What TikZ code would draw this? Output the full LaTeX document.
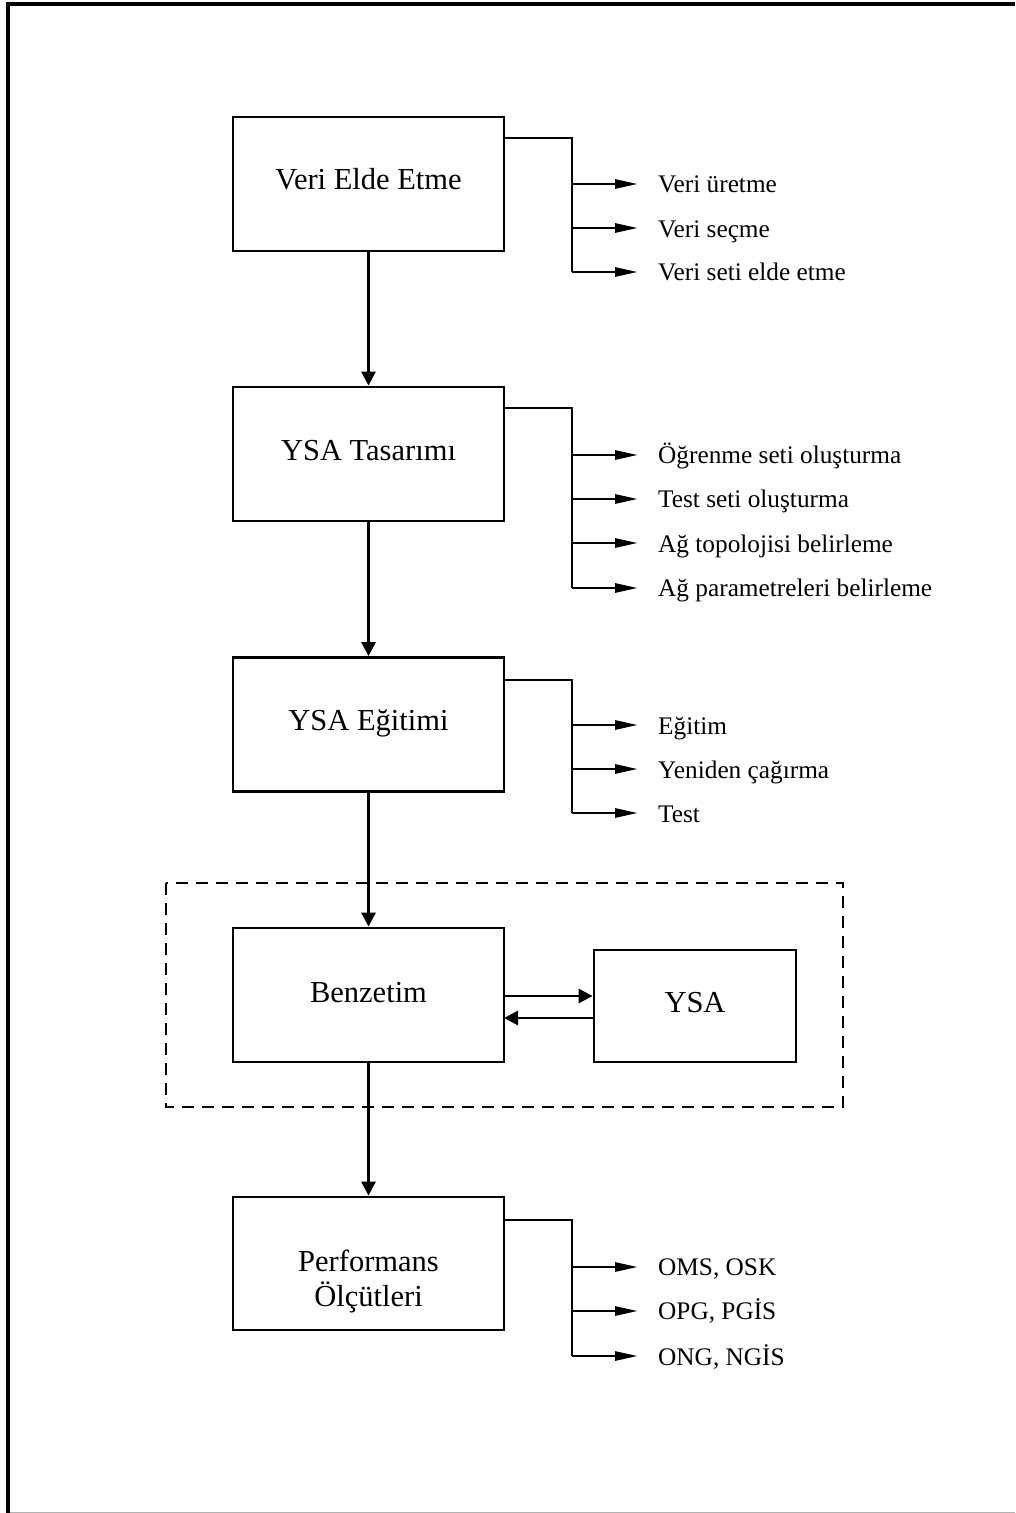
\documentclass[tikz,border=0pt]{standalone}
\usepackage{fontspec}
\setmainfont{Liberation Serif}
\usetikzlibrary{arrows.meta}

\begin{document}
\begin{tikzpicture}[x=1pt,y=-1pt,
  stagebox/.style={draw, line width=2.8pt, rectangle, inner sep=0pt,
    minimum width=271pt, minimum height=134pt},
  boxtext/.style={inner sep=0pt, anchor=base, font=\fontsize{30.5}{35}\selectfont},
  itemtext/.style={inner sep=0pt, anchor=base west, font=\fontsize{25.3}{29}\selectfont},
  flow/.style={line width=2.8pt, -{Triangle[length=14pt,width=14pt]}},
  spine/.style={line width=2.8pt},
  branch/.style={line width=2.8pt, -{Triangle[length=23pt,width=9pt]}, shorten >=20pt},
]
\useasboundingbox (0,0) rectangle (1015,1513);

% page frame
\draw[line width=4pt] (8,1513) -- (8,4) -- (1015,4);
\draw[black!30, line width=1pt] (10,1512) -- (1015,1512);

% stage boxes
\node[stagebox] (b1) at (368.5,184) {};
\node[stagebox] (b2) at (368.5,454) {};
\node[stagebox] (b3) at (368.5,724.5) {};
\node[stagebox] (b4) at (368.5,995) {};
\node[stagebox, minimum height=133pt] (b5) at (368.5,1263.5) {};
\node[stagebox, minimum width=202pt, minimum height=112pt] (ysa) at (695,1006) {};

\node[boxtext] (l1) at (368.5,189) {Veri Elde Etme};
\node[boxtext] (l2) at (368.5,460) {YSA Tasarımı};
\node[boxtext] (l3) at (368.5,730) {YSA Eğitimi};
\node[boxtext] (l4) at (368.5,1002) {Benzetim};
\node[boxtext, align=center] (l5) at (368.5,1306) {Performans\\Ölçütleri};
\node[boxtext] (l6) at (695,1012) {YSA};

% simulation group
\draw[line width=2.6pt, dash pattern=on 12pt off 8pt] (166,883) rectangle (843,1107);

% main flow
\draw[flow] (b1.south) -- (b2.north);
\draw[flow] (b2.south) -- (b3.north);
\draw[flow] (b3.south) -- (b4.north);
\draw[flow] (b4.south) -- (b5.north);

% Benzetim <-> YSA
\coordinate (bz1) at (504,996);
\coordinate (bz2) at (504,1018);
\draw[flow] (bz1) -- (bz1 -| ysa.west);
\draw[flow] (bz2 -| ysa.west) -- (bz2);

% item lists
\node[itemtext] (i11) at (658,192) {Veri üretme};
\node[itemtext] (i12) at (658,237) {Veri seçme};
\node[itemtext] (i13) at (658,280) {Veri seti elde etme};

\node[itemtext] (i21) at (658,463) {Öğrenme seti oluşturma};
\node[itemtext] (i22) at (658,507) {Test seti oluşturma};
\node[itemtext] (i23) at (658,552) {Ağ topolojisi belirleme};
\node[itemtext] (i24) at (658,596) {Ağ parametreleri belirleme};

\node[itemtext] (i31) at (658,734) {Eğitim};
\node[itemtext] (i32) at (658,778) {Yeniden çağırma};
\node[itemtext] (i33) at (658,822) {Test};

\node[itemtext] (i51) at (658,1275) {OMS, OSK};
\node[itemtext] (i52) at (658,1319) {OPG, PGİS};
\node[itemtext] (i53) at (658,1365) {ONG, NGİS};

% branch spines
\coordinate (s1) at (572,138);
\coordinate (s1a) at (572,184);
\coordinate (s1b) at (572,228);
\coordinate (s1c) at (572,272);
\draw[spine] (b1.east |- s1) -- (s1) -- (s1c);
\draw[branch] (s1a) -- (s1a -| i11.west);
\draw[branch] (s1b) -- (s1b -| i12.west);
\draw[branch] (s1c) -- (s1c -| i13.west);

\coordinate (s2) at (572,408);
\coordinate (s2a) at (572,455);
\coordinate (s2b) at (572,499);
\coordinate (s2c) at (572,543);
\coordinate (s2d) at (572,588);
\draw[spine] (b2.east |- s2) -- (s2) -- (s2d);
\draw[branch] (s2a) -- (s2a -| i21.west);
\draw[branch] (s2b) -- (s2b -| i22.west);
\draw[branch] (s2c) -- (s2c -| i23.west);
\draw[branch] (s2d) -- (s2d -| i24.west);

\coordinate (s3) at (572,680);
\coordinate (s3a) at (572,725);
\coordinate (s3b) at (572,769);
\coordinate (s3c) at (572,813);
\draw[spine] (b3.east |- s3) -- (s3) -- (s3c);
\draw[branch] (s3a) -- (s3a -| i31.west);
\draw[branch] (s3b) -- (s3b -| i32.west);
\draw[branch] (s3c) -- (s3c -| i33.west);

\coordinate (s5) at (572,1220);
\coordinate (s5a) at (572,1267);
\coordinate (s5b) at (572,1311);
\coordinate (s5c) at (572,1356);
\draw[spine] (b5.east |- s5) -- (s5) -- (s5c);
\draw[branch] (s5a) -- (s5a -| i51.west);
\draw[branch] (s5b) -- (s5b -| i52.west);
\draw[branch] (s5c) -- (s5c -| i53.west);
\end{tikzpicture}
\end{document}
